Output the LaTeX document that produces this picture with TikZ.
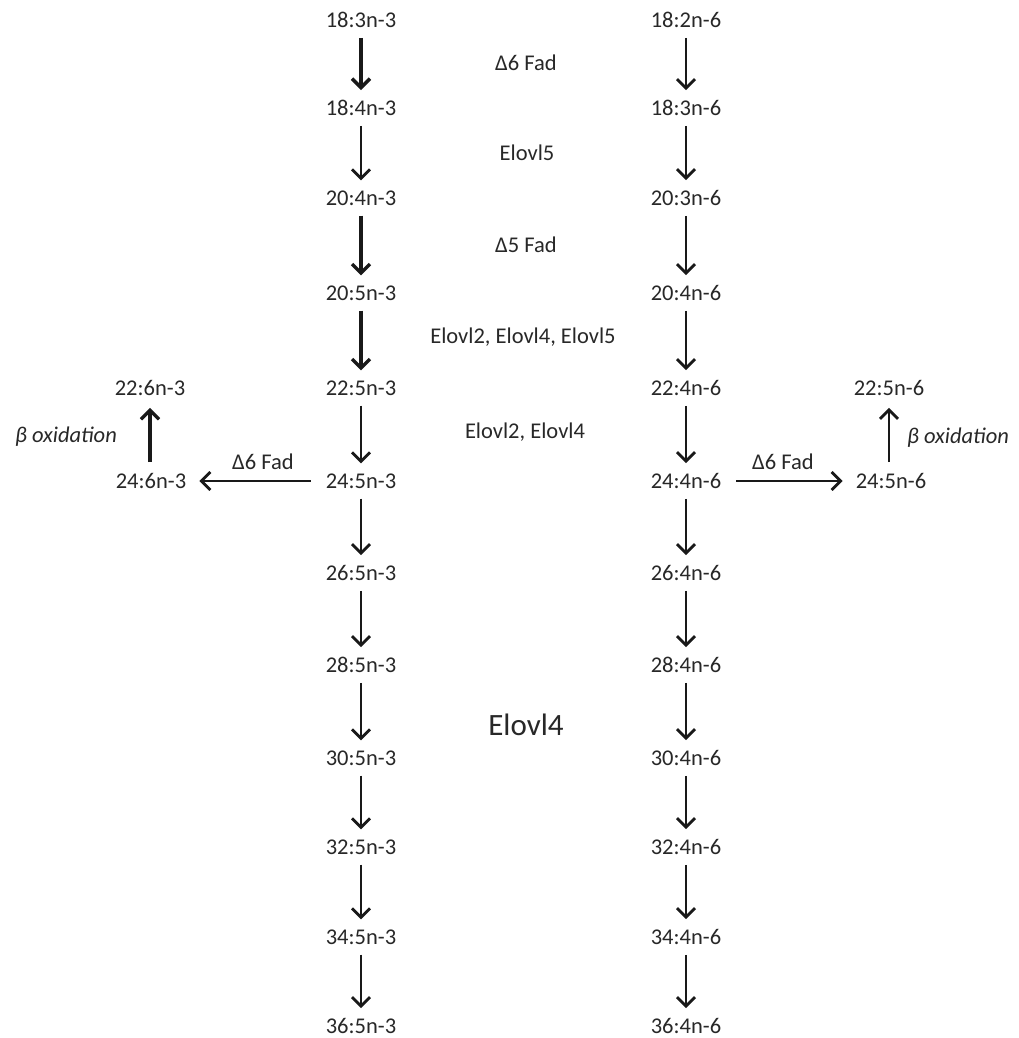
\documentclass[tikz,border=0pt]{standalone}
\usepackage{fontspec}
\setmainfont{Carlito}
\usetikzlibrary{arrows.meta}
\definecolor{txt}{RGB}{40,40,40}
\definecolor{ln}{RGB}{25,25,25}
\begin{document}
\begin{tikzpicture}[x=1pt,y=-1pt,
  lbl/.style={font=\fontsize{22.5}{26}\selectfont, text=txt, inner sep=0pt},
  ital/.style={lbl, font=\fontsize{22.5}{26}\selectfont\itshape},
  big/.style={font=\fontsize{31}{36}\selectfont, text=txt, inner sep=0pt},
  pthin/.style={draw=ln, line width=2pt, -{Straight Barb[length=9pt,width=18pt,line width=2.8pt]}, shorten >=10pt, shorten <=10pt},
  pthick/.style={draw=ln, line width=3.2pt, -{Straight Barb[length=9pt,width=18pt,line width=3.4pt]}, shorten >=10pt, shorten <=10pt},
  side/.style={shorten <=15pt, shorten >=13pt},
]
\useasboundingbox (0,0) rectangle (1018,1038);
\fill[white] (0,0) rectangle (1018,1038);

% left column (n-3)
\foreach \y/\t [count=\i] in {20/18:3n-3,108/18:4n-3,198/20:4n-3,293/20:5n-3,388/22:5n-3,481/24:5n-3,573/26:5n-3,665/28:5n-3,758/30:5n-3,847/32:5n-3,937/34:5n-3,1026/36:5n-3}
  \node[lbl] (a\i) at (361,\y) {\t};
% right column (n-6)
\foreach \y/\t [count=\i] in {20/18:2n-6,108/18:3n-6,198/20:3n-6,293/20:4n-6,388/22:4n-6,481/24:4n-6,573/26:4n-6,665/28:4n-6,758/30:4n-6,847/32:4n-6,937/34:4n-6,1026/36:4n-6}
  \node[lbl] (b\i) at (686,\y) {\t};

% side products
\node[lbl] (l1) at (150,388) {22:6n-3};
\node[lbl] (l2) at (151,481) {24:6n-3};
\node[lbl] (r1) at (889,388) {22:5n-6};
\node[lbl] (r2) at (891,481) {24:5n-6};

% enzyme labels
\node[lbl] (e1) at (526,63) {Δ6 Fad};
\node[lbl] (e2) at (527,153) {Elovl5};
\node[lbl] (e3) at (526,245) {Δ5 Fad};
\node[lbl] (e4) at (523,337) {Elovl2, Elovl4, Elovl5};
\node[lbl] (e5) at (525,432) {Elovl2, Elovl4};
\node[big] (e6) at (526,725) {Elovl4};
\node[lbl] (fl) at (263,462) {Δ6 Fad};
\node[lbl] (fr) at (783,462) {Δ6 Fad};
\node[ital] (bl) at (66,437) {β oxidation};
\node[ital] (br) at (958,438) {β oxidation};

% left column arrows
\draw[pthick] (a1) -- (a2);
\draw[pthin]  (a2) -- (a3);
\draw[pthick] (a3) -- (a4);
\draw[pthick] (a4) -- (a5);
\foreach \i [evaluate=\i as \j using int(\i+1)] in {5,...,11}
  \draw[pthin] (a\i) -- (a\j);
% right column arrows
\foreach \i [evaluate=\i as \j using int(\i+1)] in {1,...,11}
  \draw[pthin] (b\i) -- (b\j);

% side arrows
\draw[pthin, side] (a6) -- (l2);
\draw[pthin, side] (b6) -- (r2);
\draw[pthick, shorten <=11pt, shorten >=12pt] (l2.north -| 150,0) -- (l1.south -| 150,0);
\draw[pthin, shorten <=11pt, shorten >=12pt] (r2.north -| 889,0) -- (r1.south -| 889,0);
\end{tikzpicture}
\end{document}
